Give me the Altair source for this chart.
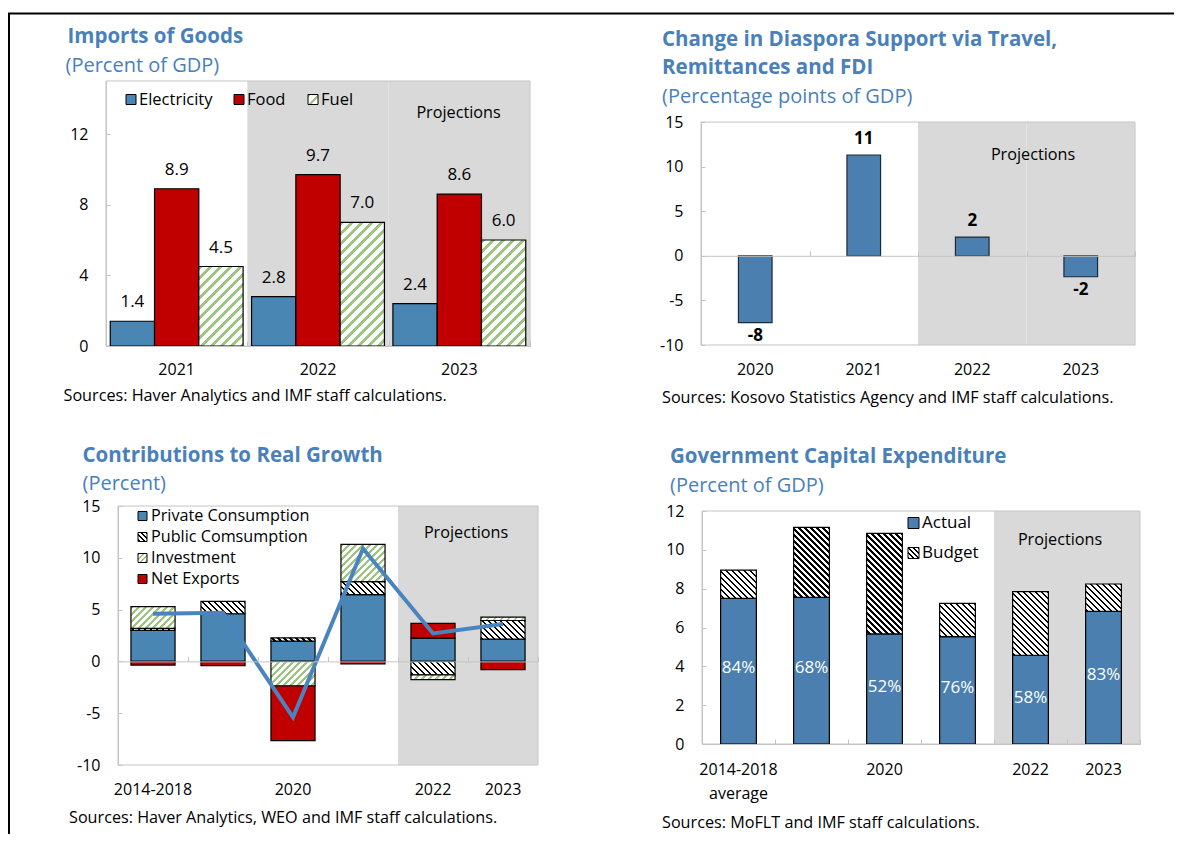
import json
import altair as alt
import pandas as pd

# ---------------- data ----------------
imp_years = ["2021", "2022", "2023"]
imp_series = ["Electricity", "Food", "Fuel"]
imp_electricity = [1.4, 2.8, 2.4]
imp_food = [8.9, 9.7, 8.6]
imp_fuel = [4.5, 7.0, 6.0]
imp_projection = [False, True, True]

dia_years = ["2020", "2021", "2022", "2023"]
dia_values = [-7.5, 11.3, 2.1, -2.35]
dia_labels = ["-8", "11", "2", "-2"]
dia_projection = [False, False, True, True]

gr_periods = ["2014-2018", "2019", "2020", "2021", "2022", "2023"]
gr_tick_labels = ["2014-2018", "", "2020", "", "2022", "2023"]
gr_series = ["Private Consumption", "Public Comsumption", "Investment", "Net Exports"]
gr_private = [3.0, 4.6, 1.95, 6.45, 2.25, 2.15]
gr_public = [0.18, 1.2, 0.33, 1.25, -1.3, 1.8]
gr_investment = [2.1, 0.0, -2.35, 3.6, -0.45, 0.32]
gr_net_exports = [-0.35, -0.4, -5.3, -0.25, 1.42, -0.8]
gr_real_growth = [4.6, 4.7, -5.4, 10.9, 2.7, 3.6]
gr_projection = [False, False, False, False, True, True]

cap_periods = ["2014-2018", "2019", "2020", "2021", "2022", "2023"]
cap_tick_labels = ["2014-2018\naverage", "", "2020", "", "2022", "2023"]
cap_actual = [7.5, 7.55, 5.67, 5.53, 4.57, 6.83]
cap_budget = [8.96, 11.16, 10.85, 7.24, 7.85, 8.24]
cap_share_labels = ["84%", "68%", "52%", "76%", "58%", "83%"]
cap_projection = [False, False, False, False, True, True]

# ---------------- style ----------------
W, H = 1166, 826
OFF = 8
FONT = "Open Sans"
TITLE_BLUE = "#4a80ba"
BAR_BLUE = "#4a86b3"
BAR_BLUE2 = "#4a7fb0"
LINE_BLUE = "#4a84bf"
RED = "#c00000"
GREEN = "#9cc57f"
SHADE = "#d9d9d9"
FRAME = "#c4c4c4"
AXFS = 16
TITLE_FS = 20.5
SUB_FS = 20
SRC_FS = 16.2

ONE = pd.DataFrame({"k": [0]})


def geom(x0, x1, yt, yb, lo, hi):
    return dict(x0=x0 - OFF, x1=x1 - OFF, yt=yt - OFF, yb=yb - OFF, lo=lo, hi=hi,
                ppu=(yb - yt) / (hi - lo))


TL = geom(106, 530, 81, 346, 0, 15)
TR = geom(701, 1135, 122, 345, -10, 15)
BL = geom(118, 538, 506, 765, -10, 15)
BR = geom(702, 1140, 511, 744, 0, 12)


def ysc(p):
    return alt.Scale(domain=[p["lo"], p["hi"]], range=[p["yb"], p["yt"]], nice=False, zero=False)


def xsc(p, cats, pi=0.0, po=0.0):
    return alt.Scale(domain=cats, range=[p["x0"], p["x1"]], paddingInner=pi, paddingOuter=po)


def yzero(p):
    return p["yb"] - (0 - p["lo"]) * p["ppu"]


def hatch(w, h, color, bg, period, frac, direction):
    L = w + h
    k = L / (w * w + h * h)
    if direction == "/":
        x1, y1, x2, y2 = 0, 0, k * w, k * h
    else:
        x1, y1, x2, y2 = 1, 0, 1 - k * w, k * h
    stops = []
    i = 0
    c = 0.0
    while c < 1:
        a = min(1, i * period / L)
        b = min(1, (i + frac) * period / L)
        c = min(1, (i + 1) * period / L)
        stops += [{"offset": round(a, 5), "color": color}, {"offset": round(b, 5), "color": color},
                  {"offset": round(b, 5), "color": bg}, {"offset": round(c, 5), "color": bg}]
        i += 1
    return {"gradient": "linear", "x1": x1, "y1": y1, "x2": x2, "y2": y2, "stops": stops}


def label_expr(cats, labels):
    expr = "datum.value"
    for c, l in zip(cats, labels):
        if l != c:
            lab = json.dumps(l.split("\n")) if "\n" in l else json.dumps(l)
            expr = f"datum.value === {json.dumps(c)} ? {lab} : ({expr})"
    return expr


def ax_xlabels(p, pad, expr=None):
    kw = dict(orient="bottom", offset=p["yb"] - H, domain=False, ticks=False, labelPadding=pad,
              labelFont=FONT, labelFontSize=AXFS, labelColor="black", labelAngle=0, title=None,
              grid=False, labelLineHeight=24)
    if expr:
        kw["labelExpr"] = expr
    return alt.Axis(**kw)


def ax_xticks(ybase):
    return alt.Axis(orient="top", offset=-ybase, domain=True, domainColor=FRAME, domainWidth=1,
                    ticks=True, tickColor=FRAME, tickSize=5, tickBand="extent", labels=False,
                    title=None, grid=False, zindex=1)


def ax_ylabels(p, values, pad=18):
    return alt.Axis(orient="left", offset=-p["x0"], values=values, domain=False, ticks=False,
                    labelPadding=pad, labelFont=FONT, labelFontSize=AXFS, labelColor="black",
                    labelExpr="'' + datum.value", title=None, grid=False)


def ax_yticks(p, values):
    return alt.Axis(orient="right", offset=p["x0"] - W, values=values, domain=True,
                    domainColor=FRAME, ticks=True, tickSize=4, tickColor=FRAME, labels=False,
                    title=None, grid=False, zindex=1)


def panel_base(p, cats, proj_flags, tick_values, xpad, expr=None):
    out = []
    proj = pd.DataFrame({"cat": [c for c, f in zip(cats, proj_flags) if f]})
    out.append(alt.Chart(proj).mark_rect(fill=SHADE).encode(
        x=alt.X("cat:N", scale=xsc(p, cats), axis=ax_xlabels(p, xpad, expr)),
        y=alt.YDatum(p["lo"], type="quantitative", scale=ysc(p), axis=ax_ylabels(p, tick_values)),
        y2=alt.Y2Datum(p["hi"])))
    out.append(alt.Chart(ONE).mark_rect(fill="transparent", stroke=FRAME, strokeWidth=1).encode(
        x=alt.XDatum(0, type="quantitative",
                     scale=alt.Scale(domain=[0, 1], range=[p["x0"], p["x1"]]), axis=None),
        x2=alt.X2Datum(1),
        y=alt.YDatum(p["lo"], type="quantitative", scale=ysc(p), axis=None),
        y2=alt.Y2Datum(p["hi"])))
    ybase = yzero(p) if p["lo"] < 0 else p["yb"]
    out.append(alt.Chart(pd.DataFrame({"cat": cats})).mark_rect(opacity=0).encode(
        x=alt.X("cat:N", scale=xsc(p, cats), axis=ax_xticks(ybase)),
        y=alt.YDatum(p["lo"], type="quantitative", scale=ysc(p), axis=ax_yticks(p, tick_values)),
        y2=alt.Y2Datum(p["hi"])))
    return out


def text(s, x, y, size=15, bold=False, color="black", align="left"):
    return alt.Chart(ONE).mark_text(
        text=s, align=align, baseline="middle", font=FONT, fontSize=size,
        fontWeight="bold" if bold else "normal", color=color
    ).encode(x=alt.value(x - OFF), y=alt.value(y - OFF))


def box(x, y, size, fill):
    return alt.Chart(ONE).mark_rect(fill=fill, stroke="black", strokeWidth=1).encode(
        x=alt.value(x - OFF), x2=alt.value(x + size - OFF),
        y=alt.value(y - size / 2 - OFF), y2=alt.value(y + size / 2 - OFF))


layers = []

# ---------------- frame of the page ----------------
layers.append(alt.Chart(ONE).mark_rule(color="black", strokeWidth=2).encode(
    x=alt.value(0), x2=alt.value(W), y=alt.value(5.5)))
layers.append(alt.Chart(ONE).mark_rule(color="black", strokeWidth=2).encode(
    x=alt.value(1), y=alt.value(5), y2=alt.value(H)))

# ---------------- Panel 1: Imports of Goods ----------------
layers += panel_base(TL, imp_years, imp_projection, [0, 4, 8, 12], 15)
imp_df = pd.DataFrame({
    "year": imp_years * 3,
    "series": ["Electricity"] * 3 + ["Food"] * 3 + ["Fuel"] * 3,
    "value": imp_electricity + imp_food + imp_fuel,
})
tl_pi, tl_po = 0.06, 0.03
tl_x = lambda: alt.X("year:N", scale=xsc(TL, imp_years, tl_pi, tl_po), axis=None)
tl_xo = lambda: alt.XOffset("series:N", scale=alt.Scale(type="band", domain=imp_series,
                                                        paddingInner=0, paddingOuter=0))
tl_step = (TL["x1"] - TL["x0"]) / (3 - tl_pi + 2 * tl_po)
tl_barw = tl_step * (1 - tl_pi) / 3
for s, col in [("Electricity", BAR_BLUE), ("Food", RED)]:
    layers.append(alt.Chart(imp_df).transform_filter(alt.datum.series == s).mark_bar(
        fill=col, stroke="black", strokeWidth=1.2).encode(
        x=tl_x(), xOffset=tl_xo(), y=alt.Y("value:Q", scale=ysc(TL), axis=None), y2=alt.Y2Datum(0)))
for yr, v in zip(imp_years, imp_fuel):
    g = hatch(tl_barw, v * TL["ppu"], GREEN, "white", 10, 0.45, "/")
    layers.append(alt.Chart(imp_df).transform_filter(
        (alt.datum.series == "Fuel") & (alt.datum.year == yr)).mark_bar(
        fill=g, stroke="black", strokeWidth=1.2).encode(
        x=tl_x(), xOffset=tl_xo(), y=alt.Y("value:Q", scale=ysc(TL), axis=None), y2=alt.Y2Datum(0)))
layers.append(alt.Chart(imp_df).mark_text(font=FONT, fontSize=17, dy=-19, color="black").encode(
    x=tl_x(), xOffset=tl_xo(), y=alt.Y("value:Q", scale=ysc(TL), axis=None),
    text=alt.Text("value:Q", format=".1f")))
layers.append(text("Imports of Goods", 67.5, 37, TITLE_FS, True, TITLE_BLUE))
layers.append(text("(Percent of GDP)", 65.5, 65.5, SUB_FS, False, TITLE_BLUE))
layers.append(text("Projections", 458.5, 112.5, 16.2, align="center"))
layers.append(text("Sources: Haver Analytics and IMF staff calculations.", 63.5, 396, SRC_FS))
for name, x, fill in [("Electricity", 126, BAR_BLUE), ("Food", 234, RED),
                      ("Fuel", 308, hatch(10, 10, GREEN, "white", 10, 0.3, "/"))]:
    layers.append(box(x, 99.5, 10, fill))
    layers.append(text(name, x + 13, 99.5, 16.5))

# ---------------- Panel 2: Diaspora support ----------------
layers += panel_base(TR, dia_years, dia_projection, [-10, -5, 0, 5, 10, 15], 16)
dia_df = pd.DataFrame({"year": dia_years, "value": dia_values, "label": dia_labels})
tr_x = lambda: alt.X("year:N", scale=xsc(TR, dia_years), axis=None)
layers.append(alt.Chart(dia_df).mark_bar(
    fill=BAR_BLUE2, stroke="#1f2a33", strokeWidth=1.2, width=alt.RelativeBandSize(0.31)).encode(
    x=tr_x(), y=alt.Y("value:Q", scale=ysc(TR), axis=None), y2=alt.Y2Datum(0)))
layers.append(alt.Chart(dia_df).transform_filter(alt.datum.value > 0).mark_text(
    font=FONT, fontSize=17, fontWeight="bold", dy=-16, color="black").encode(
    x=tr_x(), y=alt.Y("value:Q", scale=ysc(TR), axis=None), text="label:N"))
layers.append(alt.Chart(dia_df).transform_filter(alt.datum.value < 0).mark_text(
    font=FONT, fontSize=17, fontWeight="bold", dy=13, color="black").encode(
    x=tr_x(), y=alt.Y("value:Q", scale=ysc(TR), axis=None), text="label:N"))
layers.append(text("Change in Diaspora Support via Travel,", 662, 39.5, TITLE_FS, True, TITLE_BLUE))
layers.append(text("Remittances and FDI", 662, 67.5, TITLE_FS, True, TITLE_BLUE))
layers.append(text("(Percentage points of GDP)", 662, 96.5, SUB_FS, False, TITLE_BLUE))
layers.append(text("Projections", 1033, 155, 16.2, align="center"))
layers.append(text("Sources: Kosovo Statistics Agency and IMF staff calculations.", 662, 398, SRC_FS))

# ---------------- Panel 3: Contributions to growth ----------------
layers += panel_base(BL, gr_periods, gr_projection, [-10, -5, 0, 5, 10, 15], 16,
                     label_expr(gr_periods, gr_tick_labels))
gr_vals = [gr_private, gr_public, gr_investment, gr_net_exports]
gr_df = pd.DataFrame({
    "period": gr_periods * 4,
    "series": sum([[s] * 6 for s in gr_series], []),
    "order": sum([[i] * 6 for i in range(4)], []),
    "value": sum(gr_vals, []),
})
bl_x = lambda: alt.X("period:N", scale=xsc(BL, gr_periods), axis=None)
bl_w = 0.63
bl_barw = bl_w * (BL["x1"] - BL["x0"]) / 6


def gr_stack():
    return alt.Chart(gr_df).transform_stack(
        stack="value", groupby=["period"], as_=["s0", "s1"],
        sort=[alt.SortField("order", order="ascending")], offset="zero")


for s, col in [(gr_series[0], BAR_BLUE), (gr_series[3], RED)]:
    layers.append(gr_stack().transform_filter(alt.datum.series == s).mark_bar(
        fill=col, stroke="black", strokeWidth=1.2, width=alt.RelativeBandSize(bl_w)).encode(
        x=bl_x(), y=alt.Y("s0:Q", scale=ysc(BL), axis=None), y2="s1:Q"))
for si, (hc, per, frac, d) in [(1, ("black", 6, 0.38, "\\")), (2, (GREEN, 7, 0.4, "/"))]:
    for per_name, v in zip(gr_periods, gr_vals[si]):
        if v == 0:
            continue
        g = hatch(bl_barw, abs(v) * BL["ppu"], hc, "white", per, frac, d)
        layers.append(gr_stack().transform_filter(
            (alt.datum.series == gr_series[si]) & (alt.datum.period == per_name)).mark_bar(
            fill=g, stroke="black", strokeWidth=1.2, width=alt.RelativeBandSize(bl_w)).encode(
            x=bl_x(), y=alt.Y("s0:Q", scale=ysc(BL), axis=None), y2="s1:Q"))
growth_df = pd.DataFrame({"period": gr_periods, "growth": gr_real_growth})
layers.append(alt.Chart(growth_df).mark_line(color=LINE_BLUE, strokeWidth=4).encode(
    x=bl_x(), y=alt.Y("growth:Q", scale=ysc(BL), axis=None)))
layers.append(text("Contributions to Real Growth", 82.5, 456, TITLE_FS, True, TITLE_BLUE))
layers.append(text("(Percent)", 82.5, 484, SUB_FS, False, TITLE_BLUE))
layers.append(text("Projections", 466, 533, 16.2, align="center"))
layers.append(text("Sources: Haver Analytics, WEO and IMF staff calculations.", 69, 818, SRC_FS))
bl_leg = [BAR_BLUE, hatch(9, 9, "black", "white", 5, 0.4, "\\"),
          hatch(9, 9, GREEN, "white", 5, 0.4, "/"), RED]
for i, (name, fill) in enumerate(zip(gr_series, bl_leg)):
    yy = 516 + 21 * i
    layers.append(box(138, yy, 9, fill))
    layers.append(text(name, 151, yy, 16.2))

# ---------------- Panel 4: Capital expenditure ----------------
layers += panel_base(BR, cap_periods, cap_projection, [0, 2, 4, 6, 8, 10, 12], 17,
                     label_expr(cap_periods, cap_tick_labels))
cap_df = pd.DataFrame({"period": cap_periods, "actual": cap_actual, "budget": cap_budget,
                       "share": cap_share_labels})
br_x = lambda: alt.X("period:N", scale=xsc(BR, cap_periods), axis=None)
br_w = 0.49
br_barw = br_w * (BR["x1"] - BR["x0"]) / 6
layers.append(alt.Chart(cap_df).mark_bar(
    fill=BAR_BLUE2, stroke="black", strokeWidth=1.2, width=alt.RelativeBandSize(br_w)).encode(
    x=br_x(), y=alt.Y("actual:Q", scale=ysc(BR), axis=None), y2=alt.Y2Datum(0)))
for per_name, a, b in zip(cap_periods, cap_actual, cap_budget):
    g = hatch(br_barw, (b - a) * BR["ppu"], "black", "white", 6, 0.38, "\\")
    layers.append(alt.Chart(cap_df).transform_filter(alt.datum.period == per_name).mark_bar(
        fill=g, stroke="black", strokeWidth=1.2, width=alt.RelativeBandSize(br_w)).encode(
        x=br_x(), y=alt.Y("actual:Q", scale=ysc(BR), axis=None), y2="budget:Q"))
layers.append(alt.Chart(cap_df).transform_calculate(mid="datum.actual * 0.52").mark_text(
    font=FONT, fontSize=17, color="white").encode(
    x=br_x(), y=alt.Y("mid:Q", scale=ysc(BR), axis=None), text="share:N"))
layers.append(text("Government Capital Expenditure", 670, 457, TITLE_FS, True, TITLE_BLUE))
layers.append(text("(Percent of GDP)", 670, 486, SUB_FS, False, TITLE_BLUE))
layers.append(text("Projections", 1060, 540, 16.2, align="center"))
layers.append(text("Sources: MoFLT and IMF staff calculations.", 662, 823, SRC_FS))
for name, yy, fill in [("Actual", 523, BAR_BLUE2),
                       ("Budget", 553, hatch(11, 11, "black", "white", 5, 0.4, "\\"))]:
    layers.append(box(908, yy, 11, fill))
    layers.append(text(name, 922, yy, 17))

chart = alt.layer(*layers).resolve_scale(
    x="independent", y="independent", xOffset="independent"
).properties(
    width=W, height=H, padding=0, autosize=alt.AutoSizeParams(type="none")
).configure_view(strokeWidth=0)

chart.save("out.html", embed_options={"renderer": "svg", "actions": False})
